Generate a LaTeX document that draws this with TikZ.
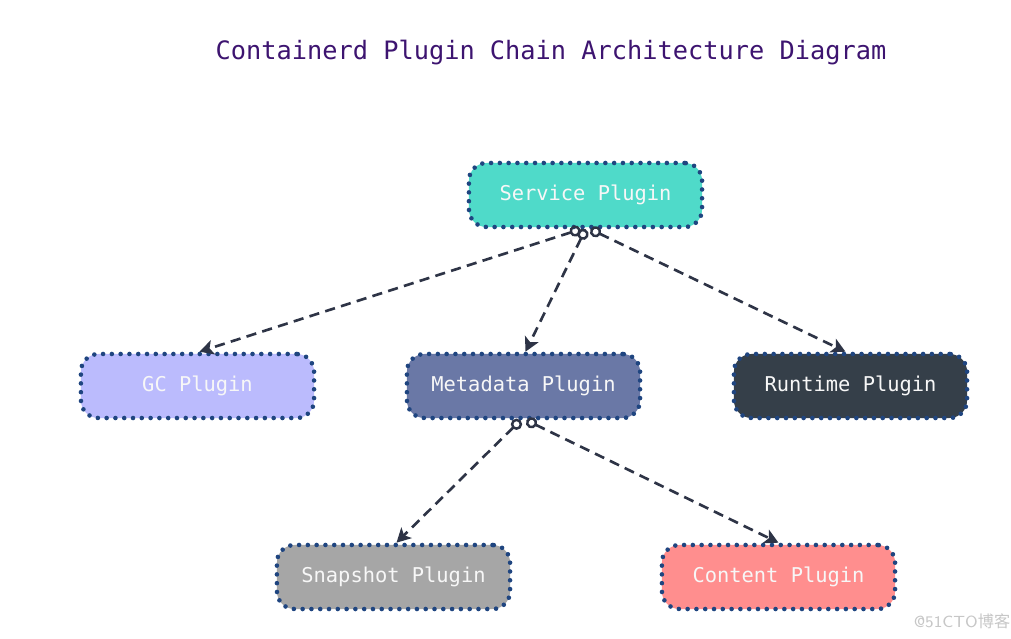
\documentclass[tikz,border=0pt]{standalone}
\usepackage{fontspec}
\setmonofont{DejaVu Sans Mono}
\newfontfamily\cjk{Noto Sans CJK SC}
\usetikzlibrary{arrows.meta,positioning}
\definecolor{titlecol}{HTML}{3D1470}
\definecolor{bordercol}{HTML}{1F4580}
\definecolor{edgecol}{HTML}{2E3446}
\definecolor{svccol}{HTML}{4FDAC9}
\definecolor{gccol}{HTML}{BBBBFD}
\definecolor{metacol}{HTML}{6A78A6}
\definecolor{runcol}{HTML}{353F49}
\definecolor{snapcol}{HTML}{A6A6A6}
\definecolor{contcol}{HTML}{FF8E8E}
\begin{document}
\begin{tikzpicture}[x=0.01cm, y=-0.01cm,
  plugin/.style={draw=bordercol, line width=1.3pt, dash pattern=on 0pt off 2.5pt, line cap=round,
    rounded corners=5pt, minimum width=2.33cm, minimum height=0.64cm, inner sep=0pt,
    text=white!94!gray, font=\ttfamily\fontsize{5.8}{7}\selectfont},
  link/.style={draw=edgecol, line width=0.75pt, dash pattern=on 2.9pt off 1.8pt,
    {Circle[open, length=3.2pt, width=3.2pt, line width=0.7pt, sep=0pt]}-{Stealth[length=4pt, width=4.2pt, inset=1pt]}}]
\useasboundingbox (0,0) rectangle (1011,639);
\fill[white] (0,0) rectangle (1011,639);
\path (551,53) node[text=titlecol, font=\ttfamily\fontsize{7.2}{8}\selectfont] (title) {Containerd Plugin Chain Architecture Diagram};
%top level
\node[plugin, fill=svccol] (svc) at (585.5,195) {Service Plugin};
%second level
\node[plugin, fill=gccol] (gc) at (197.5,386) {GC Plugin};
\node[plugin, fill=metacol] (meta) at (523.5,386) {Metadata Plugin};
\node[plugin, fill=runcol] (run) at (850.5,386) {Runtime Plugin};
%third level
\node[plugin, fill=snapcol] (snap) at (393.5,577) {Snapshot Plugin};
\node[plugin, fill=contcol] (cont) at (778.5,577) {Content Plugin};
%links
\draw[link] ([xshift=-0.05cm]svc.south) -- ([xshift=0.02cm]gc.north);
\draw[link] (svc.south) -- ([xshift=0.02cm]meta.north);
\draw[link] ([xshift=0.05cm]svc.south) -- ([xshift=-0.05cm]run.north);
\draw[link] ([xshift=-0.03cm]meta.south) -- ([xshift=0.03cm]snap.north);
\draw[link] ([xshift=0.03cm]meta.south) -- (cont.north);
\path (962,621) node[text=black!22, font=\sffamily\fontsize{4.6}{5}\selectfont] (mark) {@51CTO{\cjk 博客}};
\end{tikzpicture}
\end{document}
